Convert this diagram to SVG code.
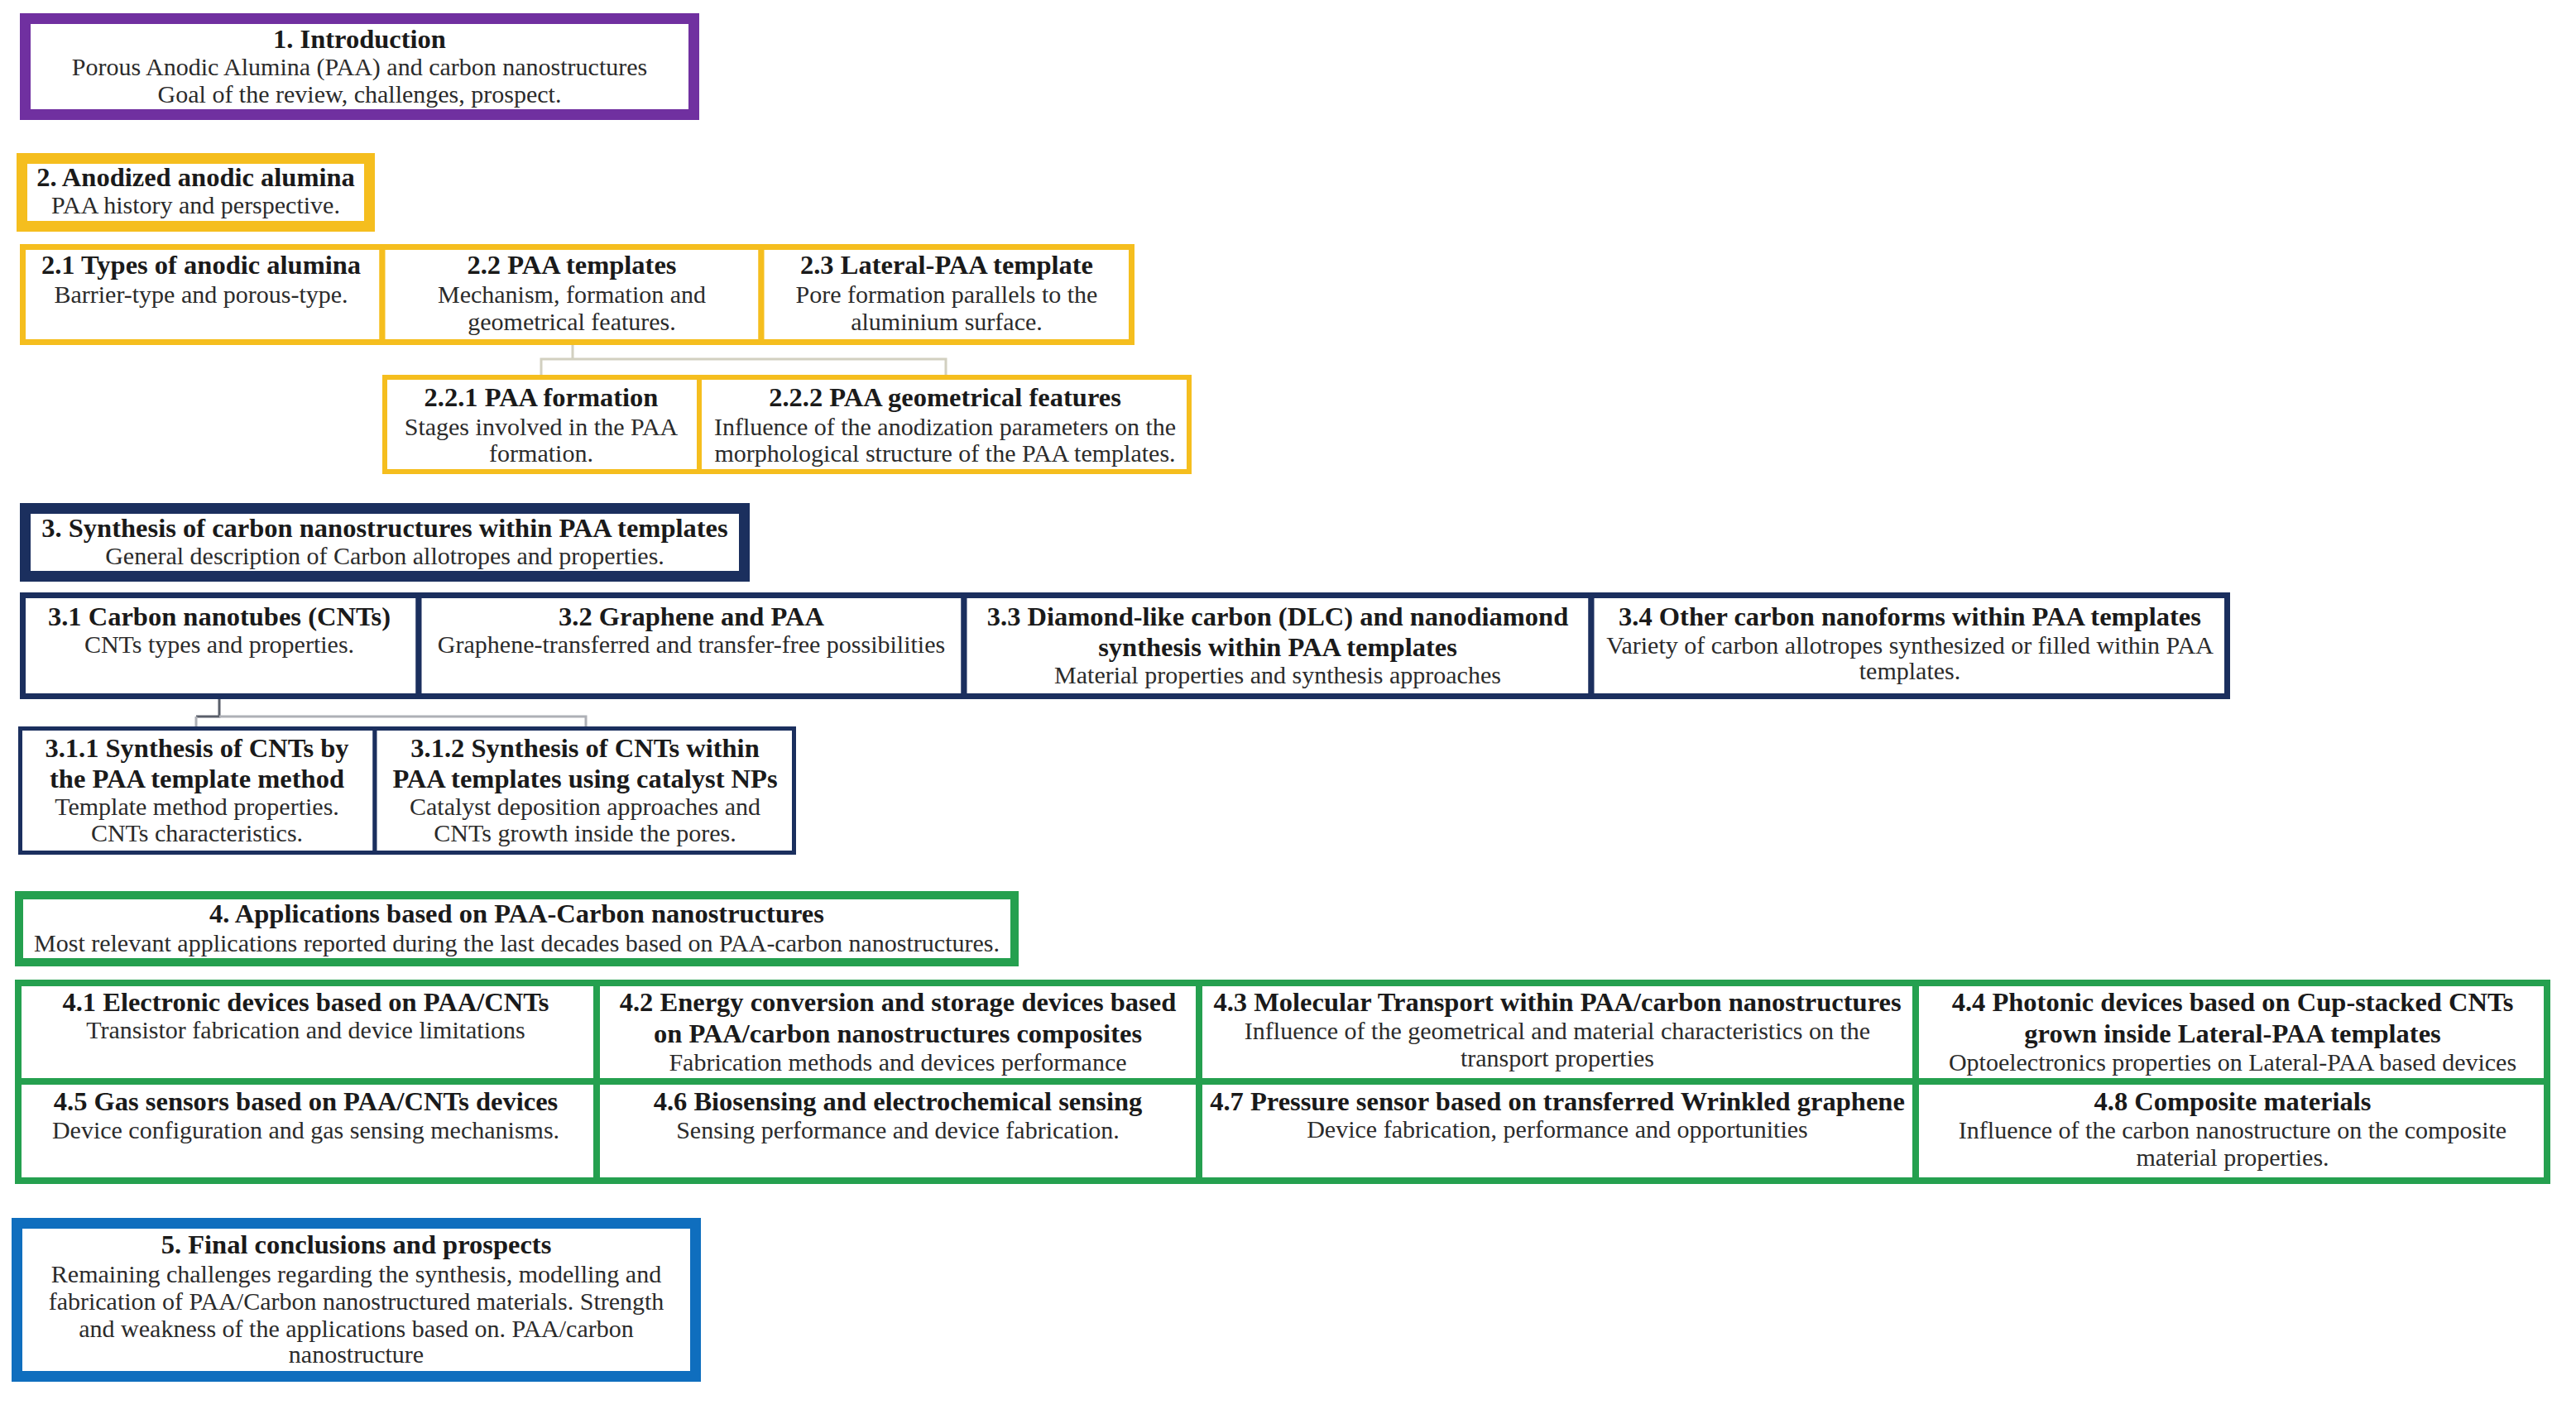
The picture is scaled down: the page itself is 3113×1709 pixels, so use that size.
<svg xmlns="http://www.w3.org/2000/svg" width="3113" height="1709" viewBox="0 0 3113 1709">
<style>
text{font-family:"Liberation Serif","DejaVu Serif",serif;text-anchor:middle;fill:#1a1a1a}
.t{font-weight:bold;font-size:32.5px}
.s{font-size:30px;fill:#2b2b2b}
.box{fill:#fff}
.purple{stroke:#7030A0;stroke-width:13}
.gold{stroke:#F5BE1E;stroke-width:13}
.gold2{stroke:#F5BE1E;stroke-width:7}
.gold3{stroke:#F5BE1E;stroke-width:6}
.navy{stroke:#1B2F5E;stroke-width:13}
.navy2{stroke:#1B2F5E;stroke-width:7}
.navy3{stroke:#1B2F5E;stroke-width:5}
.green{stroke:#25A04F;stroke-width:10}
.green2{stroke:#25A04F;stroke-width:8}
.blue{stroke:#0F6EBE;stroke-width:13}
.conn{fill:none;stroke-width:3}
</style>
<rect width="3113" height="1709" fill="#fff"/>
<g id="connectors">
<path class="conn" stroke="#D2D0C0" d="M692,417 V434 M654,455 V434 H1143 V455"/>
<path class="conn" stroke="#5A5F6A" d="M265,845 V866 H237"/>
<path class="conn" stroke="#AEB0B6" d="M237,866 V878 M265,866 H708 V878"/>
</g>
<g id="n1">
<rect class="box purple" x="30.5" y="22.5" width="808" height="116"/>
<text class="t" x="434.5" y="58">1. Introduction</text>
<text class="s" x="434.5" y="91">Porous Anodic Alumina (PAA) and carbon nanostructures</text>
<text class="s" x="434.5" y="124">Goal of the review, challenges, prospect.</text>
</g>
<g id="n2">
<rect class="box gold" x="26.5" y="191.5" width="420" height="82"/>
<text class="t" x="236.5" y="225">2. Anodized anodic alumina</text>
<text class="s" x="236.5" y="258">PAA history and perspective.</text>
</g>
<g id="n2_1">
<rect class="box gold2" x="27.5" y="298.5" width="434.5" height="115"/>
<text class="t" x="243" y="331">2.1 Types of anodic alumina</text>
<text class="s" x="243" y="366">Barrier-type and porous-type.</text>
</g>
<g id="n2_2">
<rect class="box gold2" x="462" y="298.5" width="458" height="115"/>
<text class="t" x="691" y="331">2.2 PAA templates</text>
<text class="s" x="691" y="366">Mechanism, formation and</text>
<text class="s" x="691" y="399">geometrical features.</text>
</g>
<g id="n2_3">
<rect class="box gold2" x="920" y="298.5" width="447.5" height="115"/>
<text class="t" x="1144" y="331">2.3 Lateral-PAA template</text>
<text class="s" x="1144" y="366">Pore formation parallels to the</text>
<text class="s" x="1144" y="399">aluminium surface.</text>
</g>
<g id="n2_2_1">
<rect class="box gold3" x="465" y="456" width="380" height="114"/>
<text class="t" x="654" y="491">2.2.1 PAA formation</text>
<text class="s" x="654" y="526">Stages involved in the PAA</text>
<text class="s" x="654" y="558">formation.</text>
</g>
<g id="n2_2_2">
<rect class="box gold3" x="845" y="456" width="592" height="114"/>
<text class="t" x="1142" y="491">2.2.2 PAA geometrical features</text>
<text class="s" x="1142" y="526">Influence of the anodization parameters on the</text>
<text class="s" x="1142" y="558">morphological structure of the PAA templates.</text>
</g>
<g id="n3">
<rect class="box navy" x="30.5" y="614.5" width="869" height="82"/>
<text class="t" x="465" y="649">3. Synthesis of carbon nanostructures within PAA templates</text>
<text class="s" x="465" y="682">General description of Carbon allotropes and properties.</text>
</g>
<g id="n3_1">
<rect class="box navy2" x="27.5" y="719.5" width="478.5" height="122"/>
<text class="t" x="265" y="756">3.1 Carbon nanotubes (CNTs)</text>
<text class="s" x="265" y="789">CNTs types and properties.</text>
</g>
<g id="n3_2">
<rect class="box navy2" x="506" y="719.5" width="659" height="122"/>
<text class="t" x="835.5" y="756">3.2 Graphene and PAA</text>
<text class="s" x="835.5" y="789">Graphene-transferred and transfer-free possibilities</text>
</g>
<g id="n3_3">
<rect class="box navy2" x="1165" y="719.5" width="758" height="122"/>
<text class="t" x="1544" y="756">3.3 Diamond-like carbon (DLC) and nanodiamond</text>
<text class="t" x="1544" y="793">synthesis within PAA templates</text>
<text class="s" x="1544" y="826">Material properties and synthesis approaches</text>
</g>
<g id="n3_4">
<rect class="box navy2" x="1923" y="719.5" width="768.5" height="122"/>
<text class="t" x="2308" y="756">3.4 Other carbon nanoforms within PAA templates</text>
<text class="s" x="2308" y="790">Variety of carbon allotropes synthesized or filled within PAA</text>
<text class="s" x="2308" y="821">templates.</text>
</g>
<g id="n3_1_1">
<rect class="box navy3" x="24.5" y="880.5" width="428.5" height="150"/>
<text class="t" x="238" y="915">3.1.1 Synthesis of CNTs by</text>
<text class="t" x="238" y="952">the PAA template method</text>
<text class="s" x="238" y="985">Template method properties.</text>
<text class="s" x="238" y="1017">CNTs characteristics.</text>
</g>
<g id="n3_1_2">
<rect class="box navy3" x="453" y="880.5" width="506.5" height="150"/>
<text class="t" x="707" y="915">3.1.2 Synthesis of CNTs within</text>
<text class="t" x="707" y="952">PAA templates using catalyst NPs</text>
<text class="s" x="707" y="985">Catalyst deposition approaches and</text>
<text class="s" x="707" y="1017">CNTs growth inside the pores.</text>
</g>
<g id="n4">
<rect class="box green" x="23" y="1082" width="1203" height="81"/>
<text class="t" x="624.5" y="1115">4. Applications based on PAA-Carbon nanostructures</text>
<text class="s" x="624.5" y="1150">Most relevant applications reported during the last decades based on PAA-carbon nanostructures.</text>
</g>
<g id="n4_1">
<rect class="box green2" x="22" y="1188" width="699" height="119"/>
<text class="t" x="369.5" y="1222">4.1 Electronic devices based on PAA/CNTs</text>
<text class="s" x="369.5" y="1255">Transistor fabrication and device limitations</text>
</g>
<g id="n4_2">
<rect class="box green2" x="721" y="1188" width="728" height="119"/>
<text class="t" x="1085" y="1222">4.2 Energy conversion and storage devices based</text>
<text class="t" x="1085" y="1260">on PAA/carbon nanostructures composites</text>
<text class="s" x="1085" y="1294">Fabrication methods and devices performance</text>
</g>
<g id="n4_3">
<rect class="box green2" x="1449" y="1188" width="866" height="119"/>
<text class="t" x="1882" y="1222">4.3 Molecular Transport within PAA/carbon nanostructures</text>
<text class="s" x="1882" y="1256">Influence of the geometrical and material characteristics on the</text>
<text class="s" x="1882" y="1289">transport properties</text>
</g>
<g id="n4_4">
<rect class="box green2" x="2315" y="1188" width="763" height="119"/>
<text class="t" x="2698" y="1222">4.4 Photonic devices based on Cup-stacked CNTs</text>
<text class="t" x="2698" y="1260">grown inside Lateral-PAA templates</text>
<text class="s" x="2698" y="1294">Optoelectronics properties on Lateral-PAA based devices</text>
</g>
<g id="n4_5">
<rect class="box green2" x="22" y="1307" width="699" height="120"/>
<text class="t" x="369.5" y="1342">4.5 Gas sensors based on PAA/CNTs devices</text>
<text class="s" x="369.5" y="1376">Device configuration and gas sensing mechanisms.</text>
</g>
<g id="n4_6">
<rect class="box green2" x="721" y="1307" width="728" height="120"/>
<text class="t" x="1085" y="1342">4.6 Biosensing and electrochemical sensing</text>
<text class="s" x="1085" y="1376">Sensing performance and device fabrication.</text>
</g>
<g id="n4_7">
<rect class="box green2" x="1449" y="1307" width="866" height="120"/>
<text class="t" x="1882" y="1342">4.7 Pressure sensor based on transferred Wrinkled graphene</text>
<text class="s" x="1882" y="1375">Device fabrication, performance and opportunities</text>
</g>
<g id="n4_8">
<rect class="box green2" x="2315" y="1307" width="763" height="120"/>
<text class="t" x="2698" y="1342">4.8 Composite materials</text>
<text class="s" x="2698" y="1376">Influence of the carbon nanostructure on the composite</text>
<text class="s" x="2698" y="1409">material properties.</text>
</g>
<g id="n5">
<rect class="box blue" x="20.5" y="1478.5" width="820" height="185"/>
<text class="t" x="430.5" y="1515">5. Final conclusions and prospects</text>
<text class="s" x="430.5" y="1550">Remaining challenges regarding the synthesis, modelling and</text>
<text class="s" x="430.5" y="1583">fabrication of PAA/Carbon nanostructured materials. Strength</text>
<text class="s" x="430.5" y="1616">and weakness of the applications based on. PAA/carbon</text>
<text class="s" x="430.5" y="1647">nanostructure</text>
</g>
</svg>
